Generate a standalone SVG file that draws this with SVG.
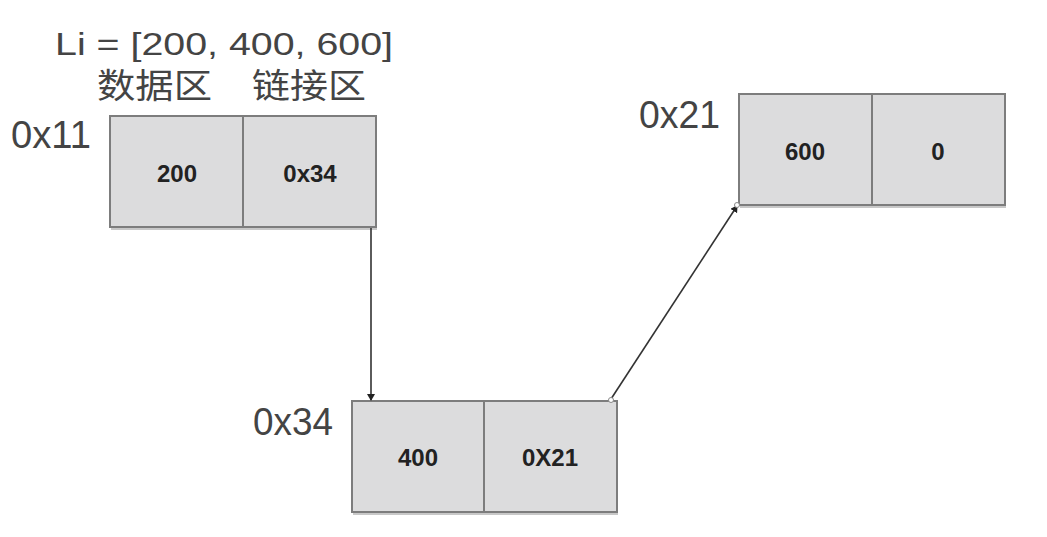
<svg xmlns="http://www.w3.org/2000/svg" width="1047" height="537" viewBox="0 0 1047 537">
<style>
.cell{fill:#dcdcdd;stroke:#7d7d7d;stroke-width:2}
.shadow{fill:#c8c8c8}
.val{font-family:"Liberation Sans",Arial,sans-serif;font-weight:bold;font-size:24px;fill:#222;text-anchor:middle}
.addr{font-family:"Liberation Sans",Arial,sans-serif;font-size:38px;fill:#444}
.title{font-family:"Liberation Sans","Noto Sans CJK SC",sans-serif;font-size:31px;fill:#444}
.cjk{font-family:"Noto Sans CJK SC",sans-serif;font-size:34px;fill:#444}
.conn{stroke:#333;stroke-width:1.6;fill:none}
</style>
<defs>
<marker id="arr" markerWidth="8" markerHeight="8" refX="6" refY="4" orient="auto" markerUnits="userSpaceOnUse">
<path d="M0,0 L7,4 L0,8 Z" fill="#222"/>
</marker>
</defs>
<rect width="1047" height="537" fill="#ffffff"/>
<text class="title" x="55" y="55" textLength="338" lengthAdjust="spacingAndGlyphs">Li = [200, 400, 600]</text>
<text class="cjk" x="97" y="98" textLength="115" lengthAdjust="spacingAndGlyphs">数据区</text>
<text class="cjk" x="252" y="98" textLength="114" lengthAdjust="spacingAndGlyphs">链接区</text>
<g id="node-0x11">
<text class="addr" x="11" y="148" textLength="80" lengthAdjust="spacingAndGlyphs">0x11</text>
<rect class="shadow" x="111" y="118" width="266" height="112"/>
<rect class="cell" x="110" y="116" width="133" height="111"/>
<rect class="cell" x="243" y="116" width="133" height="111"/>
<text class="val" x="177" y="182">200</text>
<text class="val" x="310" y="182">0x34</text>
</g>
<g id="node-0x34">
<text class="addr" x="253" y="435" textLength="80" lengthAdjust="spacingAndGlyphs">0x34</text>
<rect class="shadow" x="353" y="403" width="265" height="112"/>
<rect class="cell" x="352" y="401" width="132" height="111"/>
<rect class="cell" x="484" y="401" width="133" height="111"/>
<text class="val" x="418" y="466">400</text>
<text class="val" x="550" y="466">0X21</text>
</g>
<g id="node-0x21">
<text class="addr" x="639" y="128" textLength="81" lengthAdjust="spacingAndGlyphs">0x21</text>
<rect class="shadow" x="740" y="96" width="266" height="112"/>
<rect class="cell" x="739" y="94" width="133" height="111"/>
<rect class="cell" x="872" y="94" width="133" height="111"/>
<text class="val" x="805" y="160">600</text>
<text class="val" x="938" y="160">0</text>
</g>
<g id="connectors">
<line class="conn" x1="371" y1="228" x2="371" y2="400" marker-end="url(#arr)"/>
<line class="conn" x1="611" y1="399" x2="737" y2="206" marker-end="url(#arr)"/>
<circle cx="611" cy="400" r="2.5" fill="#fff" stroke="#888" stroke-width="1"/>
<circle cx="737" cy="205" r="2.5" fill="#fff" stroke="#888" stroke-width="1"/>
</g>
</svg>
